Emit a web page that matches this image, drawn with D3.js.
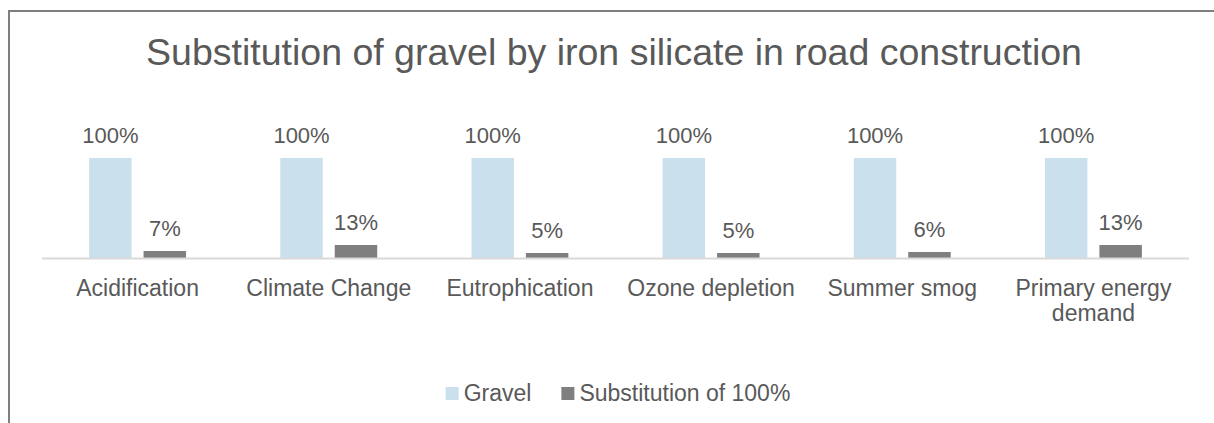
<!DOCTYPE html>
<html>
<head>
<meta charset="utf-8">
<script src="https://cdn.jsdelivr.net/npm/d3@7"></script>
<style>
  html, body { margin: 0; padding: 0; background: #fff; }
  svg text { font-family: "Liberation Sans", Arial, sans-serif; fill: #595959; }
</style>
</head>
<body>
<div id="chart"></div>
<script>
const categories = ['Acidification', 'Climate Change', 'Eutrophication', 'Ozone depletion', 'Summer smog', 'Primary energy demand']
const seriesNames = ['Gravel', 'Substitution of 100%']
const gravel = [1.00, 1.00, 1.00, 1.00, 1.00, 1.00]
const substitution = [0.07, 0.13, 0.05, 0.05, 0.06, 0.13]
const colors = ['#cae1ed', '#7f7f7f']

const width = 1214, height = 423
const plot = { left: 42, right: 1189, base: 258, top: 158 }

const svg = d3.select('#chart').append('svg')
  .attr('width', width)
  .attr('height', height)

// chart frame (only top and left edges fall inside the window)
svg.append('path')
  .attr('d', `M9,${height} V11 H${width}`)
  .attr('fill', 'none')
  .attr('stroke', '#7f7f7f')
  .attr('stroke-width', 2)

svg.append('text')
  .attr('x', 614)
  .attr('y', 65)
  .attr('text-anchor', 'middle')
  .style('font-size', '37.5px')
  .text('Substitution of gravel by iron silicate in road construction')

const data = categories.map((c, i) => ({ cat: c, vals: [gravel[i], substitution[i]] }))

const x0 = d3.scaleBand()
  .domain(categories)
  .range([plot.left, plot.right])
  .paddingInner(0.493)
  .paddingOuter(0.2465)

const x1 = d3.scaleBand()
  .domain(seriesNames)
  .range([0, x0.bandwidth()])
  .paddingInner(0.22)

const y = d3.scaleLinear()
  .domain([0, 1])
  .range([plot.base, plot.top])

const groups = svg.append('g')
  .selectAll('g')
  .data(data)
  .join('g')
  .attr('transform', d => `translate(${x0(d.cat)},0)`)

groups.selectAll('rect')
  .data(d => d.vals.map((v, j) => ({ name: seriesNames[j], v, j })))
  .join('rect')
  .attr('x', d => x1(d.name))
  .attr('y', d => y(d.v))
  .attr('width', x1.bandwidth())
  .attr('height', d => y(0) - y(d.v))
  .attr('fill', d => colors[d.j])

groups.selectAll('text.val')
  .data(d => d.vals.map((v, j) => ({ name: seriesNames[j], v, j })))
  .join('text')
  .attr('class', 'val')
  .attr('x', d => x1(d.name) + x1.bandwidth() / 2)
  .attr('y', d => y(d.v) - 15)
  .attr('text-anchor', 'middle')
  .style('font-size', '22px')
  .text(d => d3.format('.0%')(d.v))

// baseline
svg.append('line')
  .attr('x1', plot.left).attr('x2', plot.right)
  .attr('y1', plot.base + 0.5).attr('y2', plot.base + 0.5)
  .attr('stroke', '#d9d9d9')
  .attr('stroke-width', 2)

// category axis labels, wrapped
const xAxis = svg.append('g')
  .attr('transform', `translate(0,${plot.base})`)
  .call(d3.axisBottom(x0).tickSize(0).tickPadding(0))
xAxis.select('.domain').remove()
xAxis.selectAll('text')
  .attr('fill', null)
  .style('font-size', '23px')
  .attr('y', 38)
  .attr('dy', null)
  .each(function (d) {
    const t = d3.select(this)
    const words = d.split(' ')
    t.text(null)
    let line = [], lineNo = 0
    let tspan = t.append('tspan').attr('x', 0).attr('y', 38)
    words.forEach(w => {
      line.push(w)
      tspan.text(line.join(' '))
      if (tspan.node().getComputedTextLength() > 185 && line.length > 1) {
        line.pop()
        tspan.text(line.join(' '))
        line = [w]
        lineNo++
        tspan = t.append('tspan').attr('x', 0).attr('y', 38 + lineNo * 25).text(w)
      }
    })
  })

// legend
const legend = svg.append('g').attr('transform', 'translate(0,401)')
let lx = 0
const items = legend.selectAll('g')
  .data(seriesNames)
  .join('g')
items.append('rect')
  .attr('y', -14)
  .attr('width', 13)
  .attr('height', 13)
  .attr('fill', (d, i) => colors[i])
items.append('text')
  .attr('x', 18)
  .style('font-size', '23px')
  .text(d => d)
items.each(function () {
  const g = d3.select(this)
  g.attr('transform', `translate(${lx},0)`)
  lx += 18 + g.select('text').node().getComputedTextLength() + 30
})
lx -= 30
legend.attr('transform', `translate(${618 - lx / 2},401)`)
</script>
</body>
</html>
